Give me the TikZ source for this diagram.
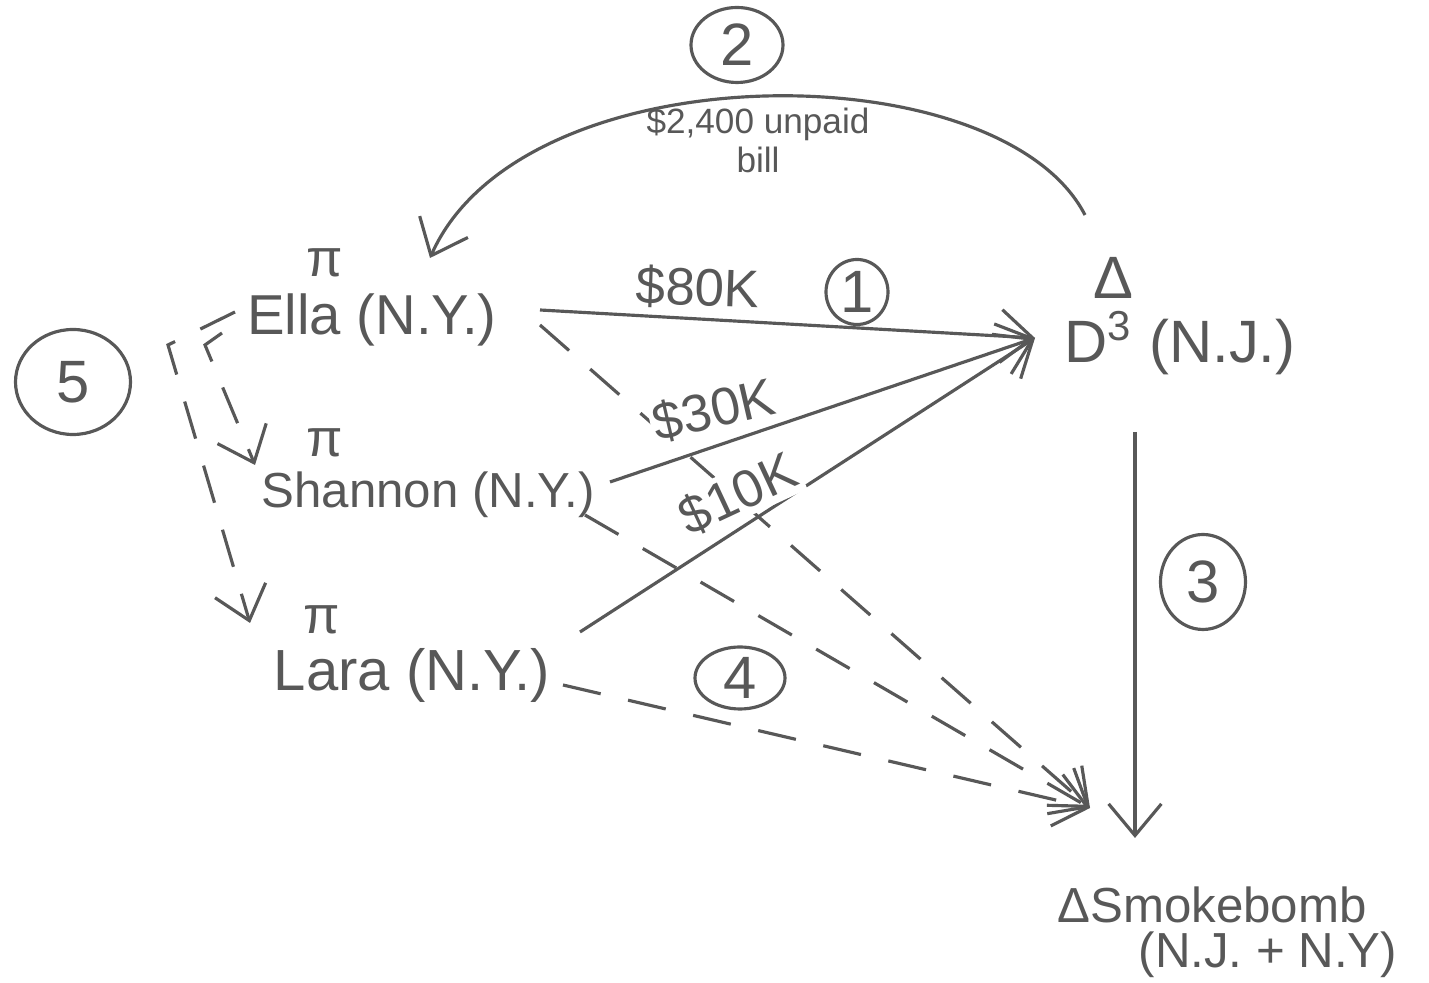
\documentclass[tikz,border=0pt]{standalone}
\usepackage{fontspec}
\setmainfont{Liberation Sans}
\usetikzlibrary{arrows.meta,shapes.geometric}
\definecolor{pencil}{RGB}{88,88,88}
\begin{document}
\begin{tikzpicture}[x=0.01cm,y=-0.01cm,
  every node/.style={text=pencil},
  party/.style={font=\fontsize{15}{18}\selectfont, inner sep=1pt},
  rolesym/.style={font=\fontsize{15}{17}\selectfont, inner sep=1pt},
  amount/.style={font=\fontsize{15}{18}\selectfont, inner sep=1pt, fill=white},
  note/.style={font=\fontsize{10}{11}\selectfont, inner sep=1pt, align=center},
  num/.style={draw=pencil, line width=0.9pt, ellipse, inner sep=0pt, font=\fontsize{17}{19}\selectfont},
  link/.style={draw=pencil, line width=0.9pt, -{Straight Barb[length=9pt,width=15pt]}},
  dashlink/.style={link, dash pattern=on 11pt off 8pt}
]
\useasboundingbox (0,0) rectangle (1429,983);

% parties
\node[party, font=\fontsize{16}{19}\selectfont] (ella) at (372,320) {Ella (N.Y.)};
\node[rolesym] (ellapi) at (325,263) {π};
\node[party, font=\fontsize{14}{17}\selectfont] (shannon) at (428,495) {Shannon (N.Y.)};
\node[rolesym] (shannonpi) at (325,443) {π};
\node[party, font=\fontsize{16.5}{19}\selectfont] (lara) at (412,675) {Lara (N.Y.)};
\node[rolesym] (larapi) at (322,620) {π};
\node[party, font=\fontsize{17}{20}\selectfont] (d) at (1180,343) {D\textsuperscript{3} (N.J.)};
\node[rolesym, font=\fontsize{17}{19}\selectfont] (dtri) at (1113,278) {Δ};
\node[party, font=\fontsize{14}{17}\selectfont] (smoke) at (1212,905) {ΔSmokebomb};
\node[party, font=\fontsize{14}{17}\selectfont] (smoke2) at (1268,955) {(N.J. + N.Y)};

% numbers
\node[num, minimum width=62*0.01cm, minimum height=65*0.01cm] (n1) at (857,292) {1};
\node[num, minimum width=92*0.01cm, minimum height=75*0.01cm] (n2) at (737,45) {2};
\node[num, minimum width=85*0.01cm, minimum height=95*0.01cm] (n3) at (1203,582) {3};
\node[num, minimum width=90*0.01cm, minimum height=62*0.01cm] (n4) at (740,678) {4};
\node[num, minimum width=115*0.01cm, minimum height=105*0.01cm] (n5) at (73,382) {5};

\node[note] (lbill) at (758,140) {\$2,400 unpaid\\bill};

% tips
\coordinate (dtip) at ([shift={(-145,-5)}]d.center);
\coordinate (stip) at ([shift={(-122,-97)}]smoke.center);

% payments to D
\draw[link] ([shift={(168,-10)}]ella.center) -- (dtip);
\draw[link] ([shift={(182,-13)}]shannon.center) -- (dtip);
\draw[link] ([shift={(168,-43)}]lara.center) -- (dtip);

% unpaid bill
\draw[link] ([shift={(-28,-63)}]dtri.center) .. controls (1000,50) and (522,50) .. ([shift={(58,-62)}]ella.center);

% D to Smokebomb
\draw[link] ([shift={(-45,89)}]d.center) -- ([shift={(-77,-67)}]smoke.center);

% dashed to Smokebomb
\draw[dashlink] ([shift={(168,5)}]ella.center) -- (stip);
\draw[dashlink] ([shift={(157,20)}]shannon.center) -- (stip);
\draw[dashlink] ([shift={(151,10)}]lara.center) -- (stip);

% bracket 5
\draw[dashlink] ([shift={(-137,-8)}]ella.center) -- ++(-67,33) -- ([shift={(-72,3)}]larapi.center);
\draw[dashlink] ([shift={(-150,13)}]ella.center) -- ++(-17,12) -- ([shift={(-70,22)}]shannonpi.center);

% amount labels (drawn last, masking the dashes as in the sketch)
\node[amount, rotate=-2] (l80) at (698,288) {\$80K};
\node[amount, rotate=13] (l30) at (714,410) {\$30K};
\node[amount, rotate=25] (l10) at (738,494) {\$10K};
\end{tikzpicture}
\end{document}
